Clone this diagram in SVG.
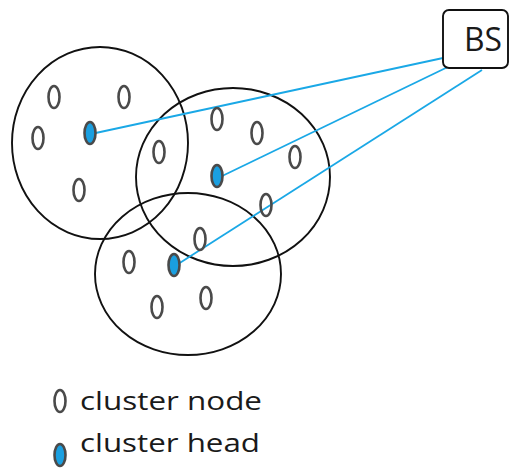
<svg xmlns="http://www.w3.org/2000/svg" width="511" height="468" viewBox="0 0 511 468">
<style>
.cl{fill:none;stroke:#111;stroke-width:1.9}
.nd{fill:none;stroke:#4a4a4a;stroke-width:2.6}
.hd{fill:#1a9fe0;stroke:#4a4a4a;stroke-width:2.6}
.ln{fill:none;stroke:#1aa8e6;stroke-width:1.8}
.tx{font-family:"Open Sans","Liberation Sans",sans-serif;fill:#1a1a1a}
</style>
<rect width="511" height="468" fill="#fff"/>
<g id="clusters">
<ellipse class="cl" cx="100" cy="143" rx="88" ry="96"/>
<ellipse class="cl" cx="233" cy="177" rx="97" ry="89"/>
<ellipse class="cl" cx="188" cy="274" rx="93" ry="81"/>
</g>
<g id="connectors">
<line class="ln" x1="443" y1="58" x2="91" y2="134"/>
<line class="ln" x1="454" y1="64" x2="218" y2="178"/>
<line class="ln" x1="482" y1="70" x2="175" y2="266"/>
</g>
<g id="BS">
<rect x="443" y="10" width="65" height="58" rx="6" fill="#fff" stroke="#111" stroke-width="1.9"/>
<text class="tx" x="483" y="51" font-size="32" text-anchor="middle" textLength="38" lengthAdjust="spacingAndGlyphs">BS</text>
</g>
<g id="nodes1">
<ellipse class="nd" cx="54" cy="97" rx="5.5" ry="11"/>
<ellipse class="nd" cx="124" cy="97" rx="5.5" ry="11"/>
<ellipse class="nd" cx="38" cy="138" rx="5.5" ry="11"/>
<ellipse class="hd" cx="90" cy="133" rx="5.5" ry="11"/>
<ellipse class="nd" cx="79" cy="190" rx="5.5" ry="11"/>
</g>
<g id="nodes2">
<ellipse class="nd" cx="159" cy="152" rx="5.5" ry="11"/>
<ellipse class="nd" cx="217" cy="119" rx="5.5" ry="11"/>
<ellipse class="nd" cx="257" cy="133" rx="5.5" ry="11"/>
<ellipse class="nd" cx="295" cy="157" rx="5.5" ry="11"/>
<ellipse class="hd" cx="217" cy="176" rx="5.5" ry="11"/>
<ellipse class="nd" cx="266" cy="205" rx="5.5" ry="11"/>
</g>
<g id="nodes3">
<ellipse class="nd" cx="200" cy="239" rx="5.5" ry="11"/>
<ellipse class="nd" cx="129" cy="262" rx="5.5" ry="11"/>
<ellipse class="hd" cx="174" cy="265" rx="5.5" ry="11"/>
<ellipse class="nd" cx="157" cy="307" rx="5.5" ry="11"/>
<ellipse class="nd" cx="206" cy="298" rx="5.5" ry="11"/>
</g>
<g id="legend">
<ellipse class="nd" cx="60" cy="401" rx="5.5" ry="11"/>
<text class="tx" x="80" y="410" font-size="25" textLength="182" lengthAdjust="spacingAndGlyphs">cluster node</text>
<ellipse class="hd" cx="60" cy="455" rx="5.5" ry="11"/>
<text class="tx" x="80" y="452" font-size="25" textLength="180" lengthAdjust="spacingAndGlyphs">cluster head</text>
</g>
</svg>
